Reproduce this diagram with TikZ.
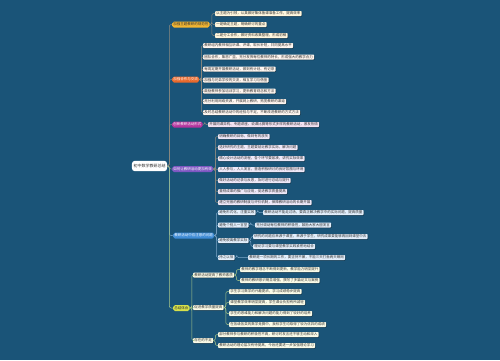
\documentclass[tikz,border=0pt]{standalone}
\usepackage{fontspec}
\setmainfont{Noto Sans CJK SC}
\usepackage{xcolor}
\usepackage{tikz}
\usetikzlibrary{shadows}
\definecolor{bg}{HTML}{1A5478}
\definecolor{ink}{HTML}{333333}
\definecolor{yellowB}{HTML}{F2B632}
\definecolor{orangeB}{HTML}{E8692C}
\definecolor{magentaB}{HTML}{B5359E}
\definecolor{violetB}{HTML}{7E57C2}
\definecolor{blueB}{HTML}{3F8CD6}
\definecolor{limeB}{HTML}{D6E04B}
\definecolor{leafY}{HTML}{FFF6DD}
\definecolor{leafO}{HTML}{FFF6F0}
\definecolor{leafM}{HTML}{F2E2F2}
\definecolor{leafV}{HTML}{EEE8F8}
\definecolor{leafB}{HTML}{E2EEFB}
\definecolor{leafL}{HTML}{FAFBE8}
\definecolor{lineGray}{HTML}{8C8A80}
\definecolor{lineBlue}{HTML}{7FA7C9}
\definecolor{lineLime}{HTML}{A9C98A}
\tikzset{
  rootBox/.style={fill=white, rounded corners=3pt, inner xsep=1.6pt, minimum height=8.5pt, text=ink, font=\fontsize{4}{4.5}\selectfont},
  mainBox/.style={anchor=west, rounded corners=1.8pt, inner xsep=1.2pt, inner ysep=1.3pt, text height=2.7pt, text depth=0.7pt, text=white, font=\fontsize{3.5}{4}\selectfont},
  leafBox/.style={anchor=west, rounded corners=0.8pt, inner xsep=1.2pt, inner ysep=0.8pt, text height=2.7pt, text depth=0.7pt, text=ink, font=\fontsize{3.5}{4}\selectfont, drop shadow={shadow xshift=0.5pt, shadow yshift=-0.6pt, opacity=0.45, fill=black}},
  link/.style={line width=0.5pt, rounded corners=2pt, to path={-- ++(2,0) |- (\tikztotarget)}}
}

\begin{document}
\begin{tikzpicture}[x=1pt, y=-1pt]
  % background
  \fill[bg] (0,0) rectangle (500,360);
  \useasboundingbox (0,0) rectangle (500,360);

  % root
  \node[rootBox] (root) at (149.5,166) {初中数学教研总结};

  % main branches
  \node[mainBox, fill=yellowB, text=ink] (b1) at (172,24.5) {加强主题教研的规范性};
  \node[mainBox, fill=orangeB] (b2) at (172,79.5) {加强合作与交流};
  \node[mainBox, fill=magentaB] (b3) at (172,124.5) {创新教研活动形式};
  \node[mainBox, fill=violetB] (b4) at (172,169) {如何让教研活动更加有效};
  \node[mainBox, fill=blueB] (b5) at (173,235.5) {教研活动中应注意的问题};
  \node[mainBox, fill=limeB, text=ink] (b6) at (173,308) {总结体会};

  % branch 1
  \node[leafBox, fill=leafY] (b11) at (215,13.5) {以主题为引领，认真做好集体备课准备工作，提高效率};
  \node[leafBox, fill=leafY] (b12) at (215,24.5) {一是确定主题，明确研讨的重点};
  \node[leafBox, fill=leafY] (b13) at (215,35.5) {二是分工合作，做好资料收集整理，形成初稿};

  % branch 2
  \node[leafBox, fill=leafO] (b21) at (203,45.5) {教研组内教师相互听课、评课，取长补短，共同提高水平};
  \node[leafBox, fill=leafO] (b22) at (203,57) {团队合作，集思广益，充分发挥每位教师的特长，形成强大的教学合力};
  \node[leafBox, fill=leafO] (b23) at (203,69) {每周定期开展教研活动，做到有计划、有记录};
  \node[leafBox, fill=leafO] (b24) at (203,80) {加强与兄弟学校的交流，相互学习与借鉴};
  \node[leafBox, fill=leafO] (b25) at (203,91) {鼓励教师参加培训学习，更新教育观念和方法};
  \node[leafBox, fill=leafO] (b26) at (203,101.5) {充分利用网络资源，开展网上教研，拓宽教研的渠道};
  \node[leafBox, fill=leafO] (b27) at (203,112.5) {及时总结教研活动中的经验与不足，不断改进教研的方式方法};

  % branch 3
  \node[leafBox, fill=leafM] (b31) at (208,124.5) {开展同课异构、专题讲座、说课比赛等形式多样的教研活动，激发热情};

  % branch 4
  \node[leafBox, fill=leafV] (b41) at (218,136.5) {明确教研的目标，做到有的放矢};
  \node[leafBox, fill=leafV] (b42) at (218,147.5) {选好研究的主题，主题要贴近教学实际，解决问题};
  \node[leafBox, fill=leafV] (b43) at (218,158.5) {精心设计活动的流程，各个环节要紧凑，讲究实际效果};
  \node[leafBox, fill=leafV] (b44) at (218,169.5) {人人参与，人人发言，营造积极研讨的良好氛围与环境};
  \node[leafBox, fill=leafV] (b45) at (218,180.5) {做好活动的记录与反思，及时进行总结与提升};
  \node[leafBox, fill=leafV] (b46) at (218,191.5) {重视成果的推广与应用，促进教学质量提高};
  \node[leafBox, fill=leafV] (b47) at (218,202.5) {建立完善的教研制度与评价机制，保障教研活动的长期开展};

  % branch 5
  \node[leafBox, fill=leafB] (b51) at (218,212.5) {避免形式化，注重实效};
  \node[leafBox, fill=leafB] (b52) at (218,225) {避免个别人一言堂};
  \node[leafBox, fill=leafB] (b53) at (218,240.5) {避免脱离教学实际};
  \node[leafBox, fill=leafB] (b54) at (218,257.5) {持之以恒};
  \node[leafBox, fill=leafB] (b511) at (263,212.5) {教研活动不能走过场，要真正解决教学中的实际问题，提高质量};
  \node[leafBox, fill=leafB] (b521) at (255,225) {充分调动每位教师的积极性，鼓励大家大胆发言};
  \node[leafBox, fill=leafB] (b531) at (253,236.5) {研究的问题应来源于课堂，来源于学生，研究成果要能够再回到课堂中去};
  \node[leafBox, fill=leafB] (b532) at (253,246.5) {理论学习要与课堂教学实践紧密地结合};
  \node[leafBox, fill=leafB] (b541) at (248,257.5) {教研是一项长期的工作，要坚持不懈，不能三天打鱼两天晒网};

  % branch 6
  \node[leafBox, fill=leafL] (b61) at (193,275) {教研活动提高了教师素质};
  \node[leafBox, fill=leafL] (b62) at (193,307.5) {促进教学质量提高};
  \node[leafBox, fill=leafL] (b63) at (193,340.5) {存在的不足};
  \node[leafBox, fill=leafL] (b611) at (240,269.5) {教师的教学理念不断得到更新，教学能力明显提升};
  \node[leafBox, fill=leafL] (b612) at (240,280.5) {教师的教研意识明显增强，撰写了多篇论文与案例};
  \node[leafBox, fill=leafL] (b621) at (229,291.5) {学生学习数学的兴趣更浓，学习成绩稳步提高};
  \node[leafBox, fill=leafL] (b622) at (229,302.5) {课堂教学效率明显提高，学生课业负担有所减轻};
  \node[leafBox, fill=leafL] (b623) at (229,313.5) {学生的思维能力和解决问题的能力得到了较好的培养};
  \node[leafBox, fill=leafL] (b624) at (229,324.5) {在各级各类的数学竞赛中，我校学生均取得了较为优异的成绩};
  \node[leafBox, fill=leafL] (b631) at (218,334.5) {部分教师参与教研的积极性不高，研讨时发言还不够主动和深入};
  \node[leafBox, fill=leafL] (b632) at (218,345.5) {教研活动的理论层次有待提高，今后还要进一步加强理论学习};

  % links from root
  \foreach \b in {b1,b2,b3,b4}
    \draw[link, lineGray] (root.east) to (\b.west);
  \draw[link, lineBlue] (root.east) to (b5.west);
  \draw[link, lineLime] (root.east) to (b6.west);

  % links to leaves
  \foreach \c in {b11,b12,b13}
    \draw[link, lineGray] (b1.east) to (\c.west);
  \foreach \c in {b21,b22,b23,b24,b25,b26,b27}
    \draw[link, lineGray] (b2.east) to (\c.west);
  \draw[link, lineGray] (b3.east) to (b31.west);
  \foreach \c in {b41,b42,b43,b44,b45,b46,b47}
    \draw[link, lineGray] (b4.east) to (\c.west);
  \foreach \c in {b51,b52,b53,b54}
    \draw[link, lineBlue] (b5.east) to (\c.west);
  \draw[link, lineBlue] (b51.east) to (b511.west);
  \draw[link, lineBlue] (b52.east) to (b521.west);
  \draw[link, lineBlue] (b53.east) to (b531.west);
  \draw[link, lineBlue] (b53.east) to (b532.west);
  \draw[link, lineBlue] (b54.east) to (b541.west);
  \foreach \c in {b61,b62,b63}
    \draw[link, lineLime] (b6.east) to (\c.west);
  \draw[link, lineLime] (b61.east) to (b611.west);
  \draw[link, lineLime] (b61.east) to (b612.west);
  \foreach \c in {b621,b622,b623,b624}
    \draw[link, lineLime] (b62.east) to (\c.west);
  \draw[link, lineLime] (b63.east) to (b631.west);
  \draw[link, lineLime] (b63.east) to (b632.west);
\end{tikzpicture}
\end{document}
